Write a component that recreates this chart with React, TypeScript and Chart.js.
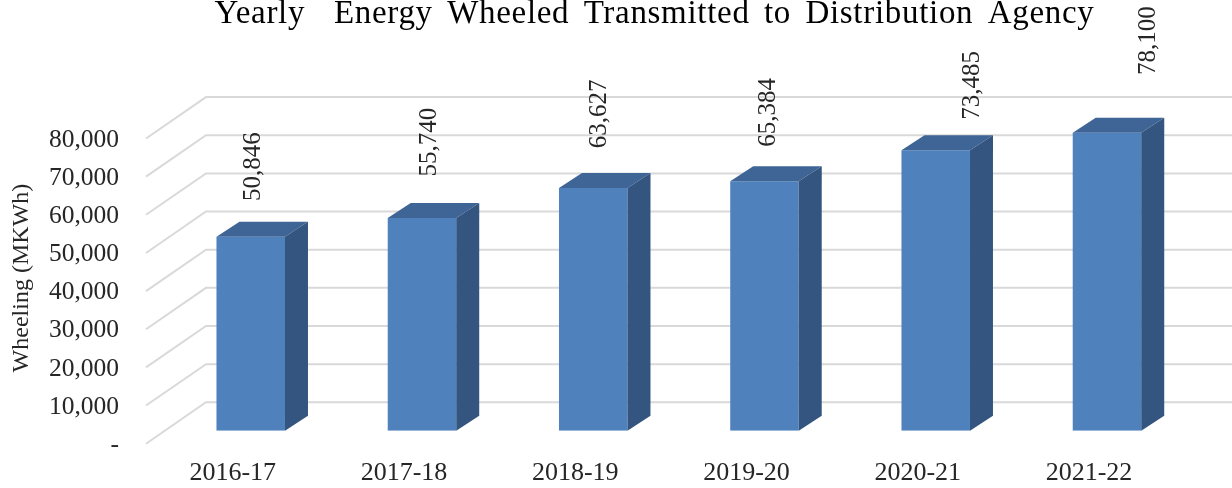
import React, { useEffect, useRef } from "react";
import { Chart, registerables } from "chart.js";

Chart.register(...registerables);

const categories = ["2016-17", "2017-18", "2018-19", "2019-20", "2020-21", "2021-22"];
const wheeling = [50846, 55740, 63627, 65384, 73485, 78100];
const chartTitle = "Yearly  Energy Wheeled Transmitted to Distribution Agency";
const yAxisTitle = "Wheeling (MKWh)";

// Hand-placed value-label nudges from the top of each bar, as in the reference
const labelDx = [3, 7, 6, 4, 37, 41];
const labelDy = [-70, -76, -74, -69, -65, -92];

const SERIF = "'Liberation Serif', 'Times New Roman', serif";
const DEPTH_X = 23;
const DEPTH_Y = -15;

const threeD = {
  id: "threeD",
  beforeDatasetsDraw(chart: any) {
    const { ctx, scales } = chart;
    const y = scales.y;
    ctx.save();
    ctx.strokeStyle = "#D9D9D9";
    ctx.lineWidth = 2;
    for (const t of y.ticks) {
      const p = y.getPixelForValue(t.value);
      ctx.beginPath();
      ctx.moveTo(146, p + 13);
      ctx.lineTo(206, p - 28.4);
      ctx.lineTo(chart.width, p - 28.4);
      ctx.stroke();
    }
    ctx.restore();
  },
  afterDatasetsDraw(chart: any) {
    const { ctx } = chart;
    const meta = chart.getDatasetMeta(0);
    ctx.save();
    ctx.fillStyle = "#000000";
    ctx.font = `33px ${SERIF}`;
    ctx.textAlign = "center";
    ctx.textBaseline = "middle";
    ctx.letterSpacing = "0.7px";
    ctx.wordSpacing = "5.4px";
    ctx.fillText(chartTitle, 654.5, 14);
    ctx.restore();

    ctx.save();
    meta.data.forEach((bar: any, i: number) => {
      const half = bar.width / 2;
      const l = bar.x - half;
      const r = bar.x + half;
      const top = bar.y;
      const base = bar.base;
      ctx.fillStyle = "#3E6595";
      ctx.beginPath();
      ctx.moveTo(l, top);
      ctx.lineTo(l + DEPTH_X, top + DEPTH_Y);
      ctx.lineTo(r + DEPTH_X, top + DEPTH_Y);
      ctx.lineTo(r, top);
      ctx.closePath();
      ctx.fill();
      ctx.fillStyle = "#33557F";
      ctx.beginPath();
      ctx.moveTo(r, top);
      ctx.lineTo(r + DEPTH_X, top + DEPTH_Y);
      ctx.lineTo(r + DEPTH_X, base + DEPTH_Y);
      ctx.lineTo(r, base);
      ctx.closePath();
      ctx.fill();

      ctx.save();
      ctx.translate(bar.x + labelDx[i], top + labelDy[i]);
      ctx.rotate(-Math.PI / 2);
      ctx.fillStyle = "#262626";
      ctx.font = `25px ${SERIF}`;
      ctx.textAlign = "center";
      ctx.textBaseline = "middle";
      ctx.fillText(wheeling[i].toLocaleString("en-US"), 0, 0);
      ctx.restore();
    });
    ctx.restore();
  },
};

export default function App() {
  const ref = useRef<HTMLCanvasElement>(null);
  useEffect(() => {
    if (!ref.current) return;
    const chart = new Chart(ref.current, {
      type: "bar",
      data: {
        labels: categories,
        datasets: [
          {
            data: wheeling,
            backgroundColor: "#4F81BD",
            barPercentage: 0.4,
            categoryPercentage: 1,
          },
        ],
      },
      plugins: [threeD],
      options: {
        animation: false,
        responsive: false,
        layout: { padding: { left: 0, right: 39.4, top: 125.5, bottom: 0 } },
        plugins: {
          legend: { display: false },
          tooltip: { enabled: false },
          title: { display: false },
        },
        scales: {
          x: {
            grid: { display: false },
            border: { display: false },
            afterFit: (s: any) => {
              s.height = 57.3;
            },
            ticks: {
              color: "#262626",
              font: { family: SERIF, size: 26 },
              padding: 19,
              labelOffset: -18,
              maxRotation: 0,
            },
          },
          y: {
            min: 0,
            max: 80000,
            grid: { display: false, drawTicks: false },
            border: { display: false },
            afterFit: (s: any) => {
              s.width = 165.1;
              s.paddingBottom = 0;
              s.paddingTop = 0;
            },
            title: {
              display: true,
              text: yAxisTitle,
              color: "#262626",
              font: { family: SERIF, size: 24 },
              padding: { top: 7, bottom: 0 },
            },
            ticks: {
              stepSize: 10000,
              color: "#262626",
              font: { family: SERIF, size: 25.5 },
              padding: 46,
              labelOffset: 14.5,
              callback: (v: any) => (v === 0 ? "-" : Number(v).toLocaleString("en-US")),
            },
          },
        },
      },
    } as any);
    return () => chart.destroy();
  }, []);
  return (
    <canvas
      ref={ref}
      width={1232}
      height={488}
      style={{ position: "fixed", left: 0, top: 0, width: 1232, height: 488 }}
    />
  );
}
